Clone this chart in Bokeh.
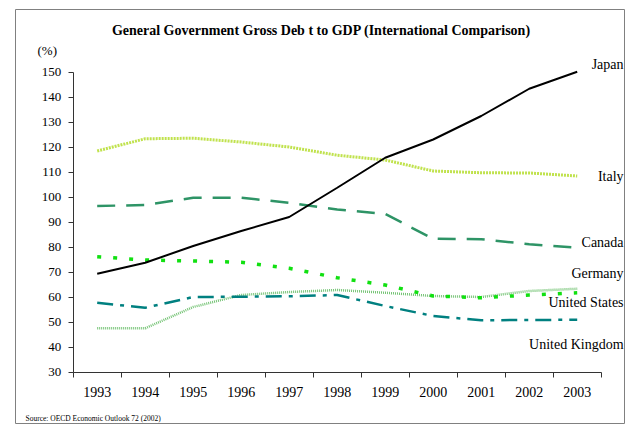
from bokeh.plotting import figure
from bokeh.models import Range1d, FixedTicker, Label, LinearAxis
from bokeh.embed import file_html
from bokeh.resources import INLINE

years = [1993, 1994, 1995, 1996, 1997, 1998, 1999, 2000, 2001, 2002, 2003]
japan = [69.3, 73.7, 80.4, 86.4, 92.0, 103.7, 115.7, 123.0, 132.4, 143.3, 150.1]
italy = [118.4, 123.3, 123.5, 122.0, 120.0, 116.7, 114.8, 110.4, 109.7, 109.6, 108.4]
canada = [96.4, 96.8, 99.7, 99.7, 97.7, 95.0, 93.2, 83.3, 83.1, 81.1, 79.7]
germany = [76.1, 74.8, 74.4, 73.9, 71.5, 67.7, 64.8, 60.4, 59.7, 60.8, 61.7]
united_states = [47.5, 47.5, 56.0, 60.8, 62.0, 62.8, 61.7, 60.4, 60.0, 62.4, 63.3]
united_kingdom = [57.7, 55.7, 60.0, 60.1, 60.3, 60.8, 56.4, 52.4, 50.7, 50.8, 50.9]
y_ticks = [30, 40, 50, 60, 70, 80, 90, 100, 110, 120, 130, 140, 150]

title_text = "General Government Gross Deb t to GDP (International Comparison)"
source_text = "Source: OECD Economic Outlook 72 (2002)"
FONT = "'Liberation Serif', 'Times New Roman', serif"

X0, X1 = years[0] - 0.5, years[-1] + 0.5
Y0, Y1 = y_ticks[0], y_ticks[-1]

p = figure(width=629, height=424, output_backend="svg", toolbar_location=None,
           x_range=Range1d(1991.298, 2003.985), y_range=Range1d(9.0, 175.0),
           x_axis_location=None, y_axis_location=None,
           min_border_left=15, min_border_right=5, min_border_top=9, min_border_bottom=0)
p.outline_line_color = "#808080"
p.outline_line_width = 1
p.xgrid.grid_line_color = None
p.ygrid.grid_line_color = None
p.background_fill_color = "white"
p.border_fill_color = "white"

# x axis: labels at year centres, ticks at boundaries
xaxis = LinearAxis(fixed_location=Y0, bounds=(X0, X1),
                   ticker=FixedTicker(ticks=years, minor_ticks=[y - 0.5 for y in years] + [X1]))
xaxis.major_tick_line_color = None
xaxis.major_tick_out = 5
xaxis.major_tick_in = 0
xaxis.minor_tick_line_color = "#333333"
xaxis.minor_tick_out = 5
xaxis.minor_tick_in = 0
xaxis.axis_line_color = "#333333"
xaxis.major_label_standoff = 10
xaxis.major_label_text_font = FONT
xaxis.major_label_text_font_size = "14px"
xaxis.major_label_text_color = "black"
p.add_layout(xaxis, "below")

yaxis = LinearAxis(fixed_location=X0, bounds=(Y0, Y1), ticker=FixedTicker(ticks=y_ticks))
yaxis.minor_tick_line_color = None
yaxis.major_tick_out = 5
yaxis.major_tick_in = 0
yaxis.major_tick_line_color = "#333333"
yaxis.axis_line_color = "#333333"
yaxis.major_label_standoff = 7
yaxis.major_label_text_font = FONT
yaxis.major_label_text_font_size = "13px"
yaxis.major_label_text_color = "black"
p.add_layout(yaxis, "left")

p.line(years, italy, line_color="#b5dd2e", line_width=3, line_dash="2 1", line_alpha=0.85)
p.line(years, united_states, line_color="#5cb85c", line_width=2.5, line_dash="1 1", line_alpha=0.85)
p.line(years, canada, line_color="#2e9466", line_width=2.5, line_dash="18 11")
p.line(years, germany, line_color="#11e011", line_width=3.5, line_dash="4 12")
p.line(years, united_kingdom, line_color="#008080", line_width=2.5, line_dash="16 7 4 7")
p.line(years, japan, line_color="black", line_width=2)

def lab(x, y, text, align="left", size="14px", bold=False, baseline="middle"):
    p.add_layout(Label(x=x, y=y, text=text, text_align=align, text_baseline=baseline,
                       text_font=FONT, text_font_size=size, text_color="black",
                       text_font_style="bold" if bold else "normal"))

lab(1997.67, 166.6, title_text, align="center", size="14px", bold=True)
lab(1991.756, 158.6, "(%)", size="13px")
lab(1991.506, 11.4, source_text, size="7.5px")

xr = 2003.965
lab(xr, 153.0, "Japan", align="right")
lab(xr, 108.2, "Italy", align="right")
lab(xr, 81.8, "Canada", align="right")
lab(xr, 69.4, "Germany", align="right")
lab(xr, 57.8, "United States", align="right")
lab(xr, 41.0, "United Kingdom", align="right")

open("out.html", "w").write(file_html(p, INLINE))
